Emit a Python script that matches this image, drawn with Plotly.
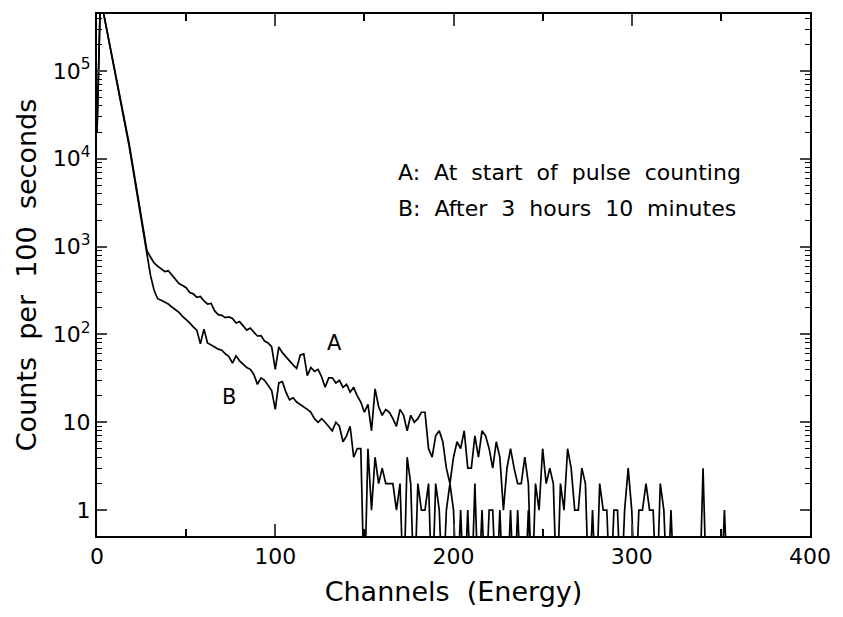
import plotly.graph_objects as go

# Channels (every 2nd channel) and counts per 100 s
channels_a = list(range(0, 362, 2))
counts_a = [
    20000, 800000, 420000, 260000, 160000, 100000, 65000, 42000, 26000, 15000,
    8500, 4800, 2700, 1500, 900, 760, 650, 600, 560, 520,
    530, 470, 430, 380, 360, 340, 300, 290, 265, 270,
    240, 222, 225, 185, 168, 165, 155, 158, 152, 135,
    140, 125, 112, 118, 105, 96, 97, 84, 80, 72,
    40, 72, 62, 55, 50, 45, 41, 58, 60, 34,
    42, 38, 40, 33, 25, 32, 32, 28, 30, 25,
    27, 22, 25, 20, 17, 13, 16, 8, 24, 15,
    12, 14, 13, 11, 9, 14, 12, 8, 12, 10,
    11, 13, 13, 5, 4, 7, 8, 6, 3, 2,
    4, 6, 5, 8, 3, 3, 7, 4, 8, 7,
    5, 3, 6, 4, 1, 3, 5, 3, 2, 2,
    4, 2, 0, 2, 1, 5, 2, 3, 2, 0,
    2, 1, 5, 3, 1, 1, 3, 2, 0, 1,
    0, 2, 1, 1, 0, 1, 1, 0, 1, 3,
    1, 0, 1, 1, 2, 1, 1, 0, 2, 1,
    0, 1, 0, 0, 0, 0, 0, 0, 0, 0,
    3, 0, 0, 0, 0, 0, 1, 0, 0, 0,
    0,
]

channels_b = list(range(0, 262, 2))
counts_b = [
    20000, 800000, 420000, 260000, 160000, 98000, 63000, 40000, 24000, 14000,
    8000, 4500, 2500, 1400, 820, 470, 320, 255, 245, 235,
    222, 205, 190, 178, 160, 148, 135, 122, 112, 78,
    115, 80, 75, 72, 68, 66, 60, 56, 47, 57,
    50, 46, 42, 40, 35, 27, 32, 30, 26, 23,
    14, 28, 29, 22, 18, 19, 17, 16, 15, 14,
    13, 11, 10, 11, 10, 9, 8, 10, 9, 6,
    7, 9, 4, 5, 5, 0, 5, 1, 4, 2,
    3, 2, 2, 2, 1, 2, 0, 4, 2, 0,
    2, 1, 1, 2, 0, 2, 1, 0, 1, 2,
    1, 0, 1, 0, 1, 0, 2, 0, 1, 0,
    1, 1, 0, 1, 0, 0, 1, 0, 1, 0,
    0, 1, 0, 0, 0, 0, 0, 0, 0, 0,
    0,
]

x_ticks = [0, 100, 200, 300, 400]
y_ticks = [1, 10, 100, 1000, 10000, 100000]
y_ticktext = ["1", "10", "10<sup>2</sup>", "10<sup>3</sup>", "10<sup>4</sup>", "10<sup>5</sup>"]
legend_lines = ["A:  At  start  of  pulse  counting", "B:  After  3  hours  10  minutes"]

FLOOR = 0.1  # zero counts drawn below the axis floor (clipped)


def shown(vals):
    return [v if v > 0 else FLOOR for v in vals]


minor_y = [k * 10 ** d for d in range(0, 6) for k in range(2, 10)]

fig = go.Figure()
fig.add_trace(go.Scatter(x=channels_a, y=shown(counts_a), mode="lines",
                         line=dict(color="black", width=1.7), name="A"))
fig.add_trace(go.Scatter(x=channels_b, y=shown(counts_b), mode="lines",
                         line=dict(color="black", width=1.7), name="B"))

font = "DejaVu Sans, sans-serif"

fig.update_layout(
    width=843, height=617,
    margin=dict(l=97, r=29, t=13, b=81),
    paper_bgcolor="white", plot_bgcolor="white",
    showlegend=False,
    font=dict(family=font, color="black"),
    xaxis=dict(
        range=[0, 400], tickvals=x_ticks, ticks="inside", ticklen=12, tickwidth=1.5,
        showline=True, linewidth=2, linecolor="black", mirror="ticks",
        showgrid=False, zeroline=False,
        tickfont=dict(size=22),
        minor=dict(tickvals=[50, 150, 250, 350], ticks="inside", ticklen=7,
                   tickwidth=1.5, tickcolor="black", showgrid=False),
        title=dict(text="Channels  (Energy)", font=dict(size=27), standoff=14),
    ),
    yaxis=dict(
        type="log", range=[-0.295, 5.648], tickvals=y_ticks, ticktext=y_ticktext,
        ticks="inside", ticklen=10, tickwidth=1.5,
        showline=True, linewidth=2, linecolor="black", mirror="ticks",
        showgrid=False, zeroline=False,
        tickfont=dict(size=22),
        minor=dict(tickvals=minor_y, ticks="inside", ticklen=5, tickwidth=1.2,
                   tickcolor="black", showgrid=False),
        title=dict(text="Counts  per  100  seconds", font=dict(size=27), standoff=8),
    ),
)

fig.add_annotation(x=167.5, y=3.84, xref="x", yref="y", text=legend_lines[0],
                   showarrow=False, xanchor="left", yanchor="middle",
                   font=dict(size=22, family=font))
fig.add_annotation(x=167.5, y=3.43, xref="x", yref="y", text=legend_lines[1],
                   showarrow=False, xanchor="left", yanchor="middle",
                   font=dict(size=22, family=font))
fig.add_annotation(x=133.5, y=1.90, xref="x", yref="y", text="A",
                   showarrow=False, font=dict(size=21, family=font))
fig.add_annotation(x=73.8, y=1.284, xref="x", yref="y", text="B",
                   showarrow=False, font=dict(size=21, family=font))

fig.write_html("out.html")
